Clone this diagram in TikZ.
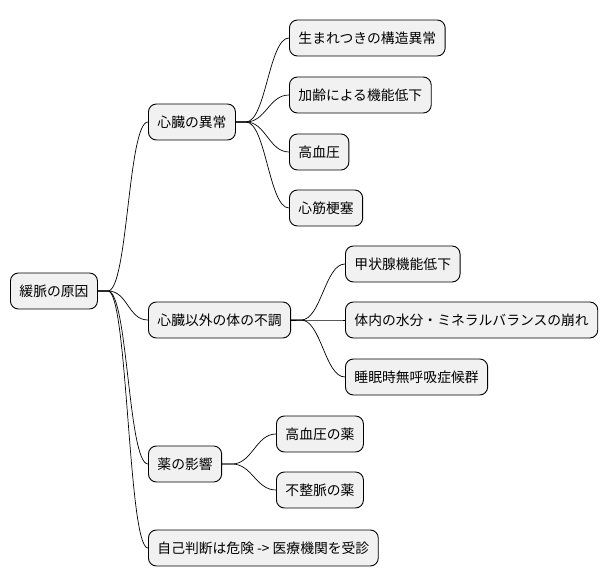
\documentclass[tikz,border=0pt]{standalone}
\usepackage{fontspec}
\setmainfont{Noto Sans CJK JP}
\usetikzlibrary{positioning}
\definecolor{boxfill}{HTML}{F1F1F1}
\tikzset{
    mapnode/.style={draw=black, fill=boxfill, rounded corners=8pt, anchor=west, line width=0.9pt,
        minimum height=36pt, inner xsep=9pt, font=\fontsize{13.8}{16}\selectfont},
    branch/.style={draw=black, line width=0.7pt}
}
\begin{document}
\begin{tikzpicture}[x=1pt, y=-1pt]
    \useasboundingbox (0,0) rectangle (614,583);
    % root and first level
    \node[mapnode] (root) at (10,291) {緩脈の原因};
    \node[mapnode] (heart) at (148,122) {心臓の異常};
    \node[mapnode] (body) at (148,320) {心臓以外の体の不調};
    \node[mapnode] (drug) at (148,464) {薬の影響};
    \node[mapnode] (doctor) at (148,548) {自己判断は危険 -> 医療機関を受診};
    % heart
    \node[mapnode] (h1) at (289,38) {生まれつきの構造異常};
    \node[mapnode] (h2) at (289,95) {加齢による機能低下};
    \node[mapnode] (h3) at (289,152) {高血圧};
    \node[mapnode] (h4) at (289,208) {心筋梗塞};
    % body
    \node[mapnode] (b1) at (345,264) {甲状腺機能低下};
    \node[mapnode] (b2) at (345,320) {体内の水分・ミネラルバランスの崩れ};
    \node[mapnode] (b3) at (345,377) {睡眠時無呼吸症候群};
    % drug
    \node[mapnode] (d1) at (276,434) {高血圧の薬};
    \node[mapnode] (d2) at (276,490) {不整脈の薬};
    % connectors
    \foreach \p/\c in {root/heart, root/body, root/drug, root/doctor,
                       heart/h1, heart/h2, heart/h3, heart/h4,
                       body/b1, body/b2, body/b3,
                       drug/d1, drug/d2}
        \draw[branch] (\p.east) -- +(10,0) .. controls +(20,0) and +(-20,0) .. (\c.west);
\end{tikzpicture}
\end{document}
